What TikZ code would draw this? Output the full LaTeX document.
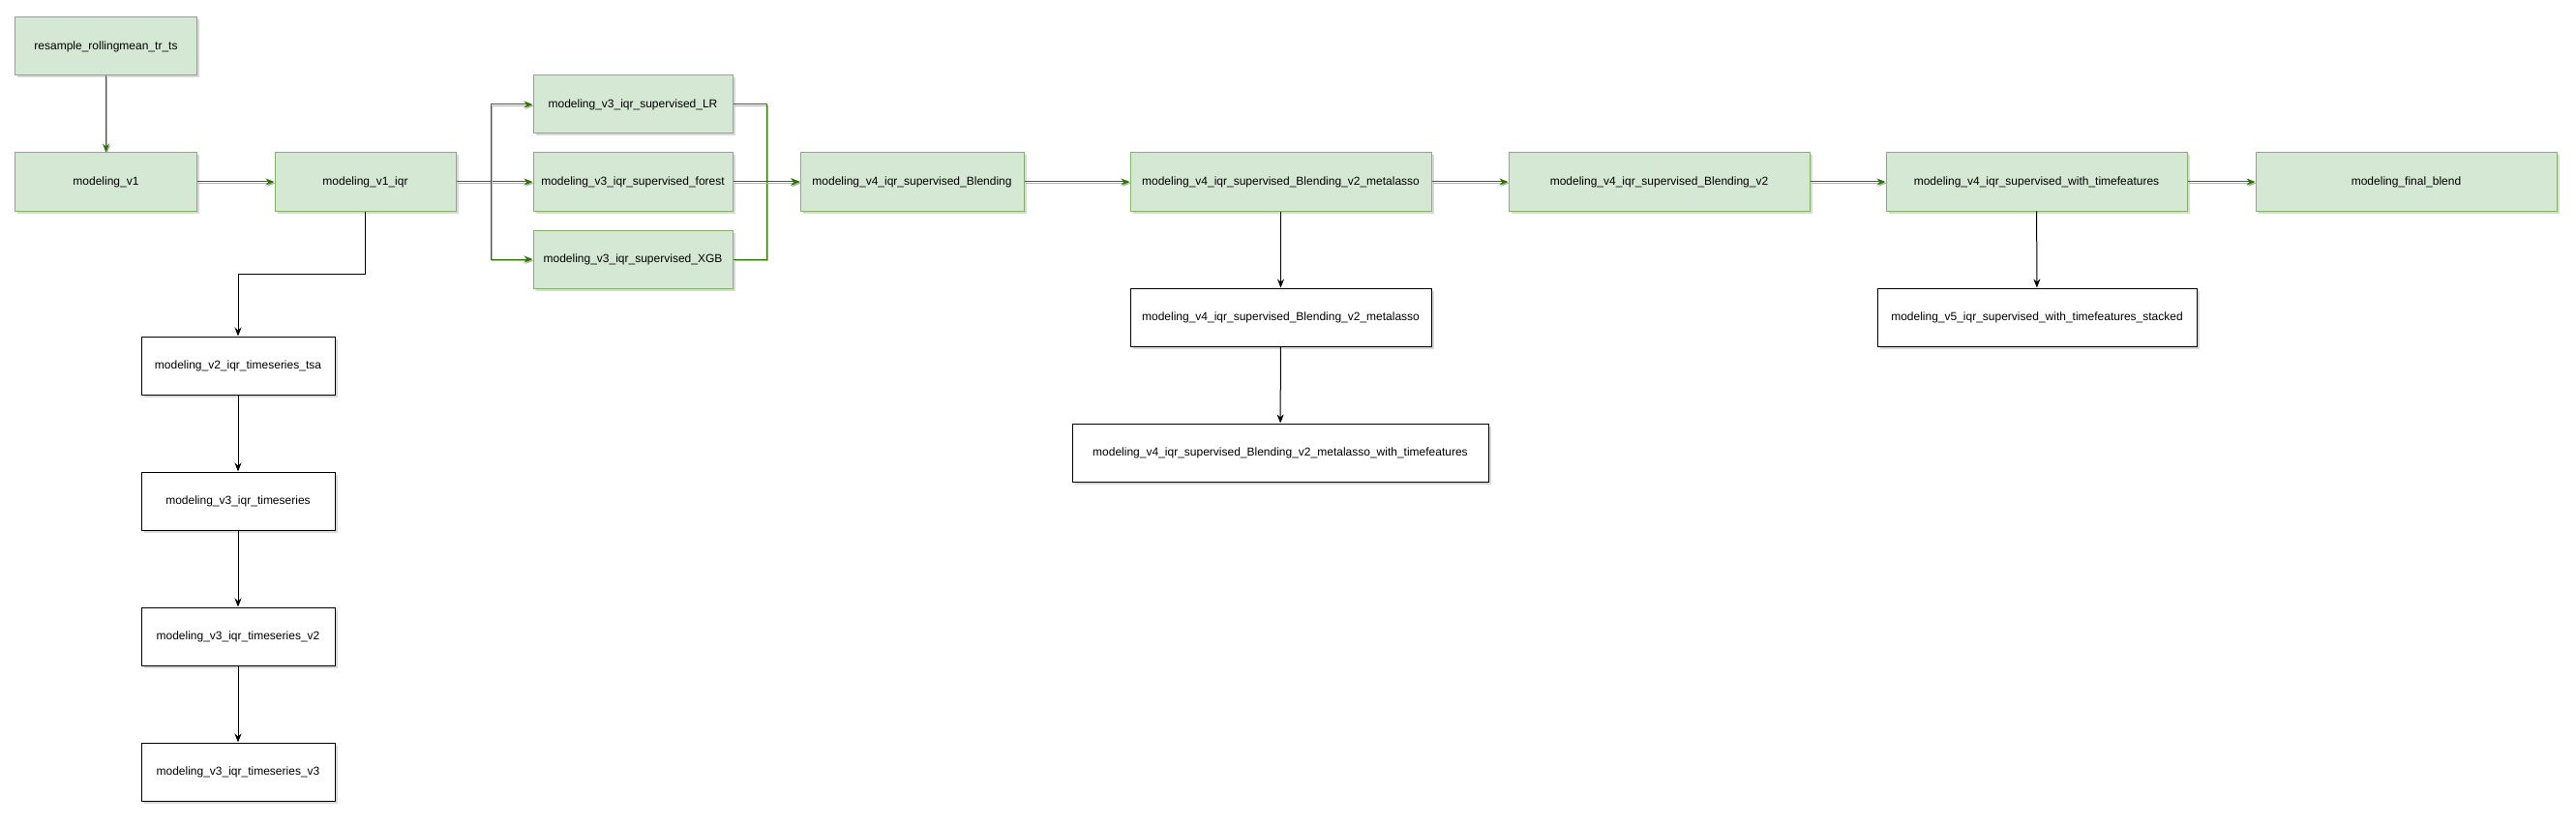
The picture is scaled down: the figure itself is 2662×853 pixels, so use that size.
\documentclass[tikz,border=0pt]{standalone}
\usepackage{fontspec}
\setmainfont{Liberation Sans}
\usetikzlibrary{arrows.meta, shadows}

\definecolor{boxfill}{HTML}{D5E8D4}
\definecolor{boxline}{HTML}{82B366}
\definecolor{edgegreen}{HTML}{2D7600}

\begin{document}
\begin{tikzpicture}[x=1pt, y=-1pt,
		every node/.style={font=\fontsize{12}{14}\selectfont, inner sep=0pt},
		greenbox/.style={rectangle, draw=boxline, line width=1pt, fill=boxfill, minimum height=60pt, drop shadow={shadow xshift=2.5pt, shadow yshift=-2.5pt, opacity=0.3}},
		whitebox/.style={rectangle, draw=black, line width=1pt, fill=white, minimum height=60pt, drop shadow={shadow xshift=2.5pt, shadow yshift=-2.5pt, opacity=0.3}},
		greenarrow/.style={draw=edgegreen, line width=1pt, -{Stealth[length=9pt, width=7pt]}, preaction={draw=black!30, line width=1pt, transform canvas={shift={(1pt,-1.5pt)}}}},
		blackarrow/.style={draw=black, line width=1pt, -{Stealth[length=9pt, width=7pt]}}]
		\useasboundingbox (0, 0) rectangle (2662, 853);
		% top row
		\node(RESAMPLE) at (109.5, 48)[greenbox, minimum width=188pt]{resample\_rollingmean\_tr\_ts};
		\node(V1) at (109.5, 188)[greenbox, minimum width=188pt]{modeling\_v1};
		\node(V1IQR) at (377.5, 188)[greenbox, minimum width=187pt]{modeling\_v1\_iqr};
		\node(LR) at (654, 108)[greenbox, minimum width=206pt]{modeling\_v3\_iqr\_supervised\_LR};
		\node(FOREST) at (654, 188)[greenbox, minimum width=206pt]{modeling\_v3\_iqr\_supervised\_forest};
		\node(XGB) at (654, 268)[greenbox, minimum width=206pt]{modeling\_v3\_iqr\_supervised\_XGB};
		\node(BLEND) at (942.5, 188)[greenbox, minimum width=231pt]{modeling\_v4\_iqr\_supervised\_Blending};
		\node(META) at (1323.5, 188)[greenbox, minimum width=311pt]{modeling\_v4\_iqr\_supervised\_Blending\_v2\_metalasso};
		\node(BLEND2) at (1714.5, 188)[greenbox, minimum width=311pt]{modeling\_v4\_iqr\_supervised\_Blending\_v2};
		\node(WITHTF) at (2104.5, 188)[greenbox, minimum width=311pt]{modeling\_v4\_iqr\_supervised\_with\_timefeatures};
		\node(FINAL) at (2486.5, 188)[greenbox, minimum width=311pt]{modeling\_final\_blend};
		% lower boxes
		\node(TSA) at (246, 378)[whitebox, minimum width=200pt]{modeling\_v2\_iqr\_timeseries\_tsa};
		\node(TS) at (246, 518)[whitebox, minimum width=200pt]{modeling\_v3\_iqr\_timeseries};
		\node(TS2) at (246, 658)[whitebox, minimum width=200pt]{modeling\_v3\_iqr\_timeseries\_v2};
		\node(TS3) at (246, 798)[whitebox, minimum width=200pt]{modeling\_v3\_iqr\_timeseries\_v3};
		\node(METAB) at (1323.5, 328)[whitebox, minimum width=311pt]{modeling\_v4\_iqr\_supervised\_Blending\_v2\_metalasso};
		\node(METATF) at (1323, 468)[whitebox, minimum width=430pt]{modeling\_v4\_iqr\_supervised\_Blending\_v2\_metalasso\_with\_timefeatures};
		\node(STACKED) at (2105, 328)[whitebox, minimum width=330pt]{modeling\_v5\_iqr\_supervised\_with\_timefeatures\_stacked};
		\coordinate(SPLIT) at (507, 188);
		\coordinate(MERGE) at (792, 188);
		% green flow
		\draw[greenarrow] (RESAMPLE)--(V1);
		\draw[greenarrow] (V1)--(V1IQR);
		\draw[greenarrow] (V1IQR)--(FOREST);
		\draw[greenarrow] (V1IQR.east)--(SPLIT)|-(LR.west);
		\draw[greenarrow] (V1IQR.east)--(SPLIT)|-(XGB.west);
		\draw[greenarrow] (LR.east)-|(MERGE)--(BLEND.west);
		\draw[greenarrow] (XGB.east)-|(MERGE)--(BLEND.west);
		\draw[greenarrow] (FOREST)--(BLEND);
		\draw[greenarrow] (BLEND)--(META);
		\draw[greenarrow] (META)--(BLEND2);
		\draw[greenarrow] (BLEND2)--(WITHTF);
		\draw[greenarrow] (WITHTF)--(FINAL);
		% black flow
		\draw[blackarrow] (V1IQR.south)--++(0, 65)-|(TSA.north);
		\draw[blackarrow] (TSA)--(TS);
		\draw[blackarrow] (TS)--(TS2);
		\draw[blackarrow] (TS2)--(TS3);
		\draw[blackarrow] (META)--(METAB);
		\draw[blackarrow] (METAB)--(METATF);
		\draw[blackarrow] (WITHTF)--(STACKED);
\end{tikzpicture}
\end{document}
